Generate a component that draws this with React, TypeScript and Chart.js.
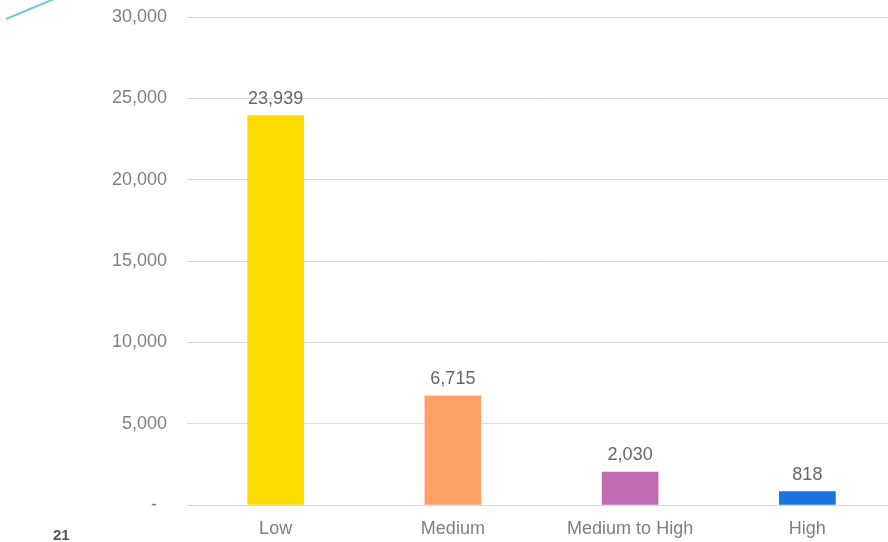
import React, { useEffect, useRef } from "react";
import { Chart, registerables } from "chart.js";

Chart.register(...registerables);

const categories = ["Low", "Medium", "Medium to High", "High"];
const values = [23939, 6715, 2030, 818];
const barColors = ["#FFDC00", "#FFA066", "#C06BB4", "#1A73E3"];
const yTicks = [0, 5000, 10000, 15000, 20000, 25000, 30000];

const FONT = "'Liberation Sans', Arial, sans-serif";

const fmt = (v: number) => (v === 0 ? "-  " : v.toLocaleString("en-US"));

const valueLabels = {
  id: "valueLabels",
  afterDatasetsDraw(chart: any) {
    const ctx = chart.ctx;
    const meta = chart.getDatasetMeta(0);
    ctx.save();
    ctx.font = `18px ${FONT}`;
    ctx.fillStyle = "#666666";
    ctx.textAlign = "center";
    ctx.textBaseline = "alphabetic";
    meta.data.forEach((el: any, i: number) => {
      ctx.fillText(fmt(values[i]), el.x, el.y - 12);
    });
    ctx.restore();
  },
};

export default function App() {
  const ref = useRef<HTMLCanvasElement>(null);
  useEffect(() => {
    document.body.style.margin = "0";
    document.body.style.overflow = "hidden";
    const chart = new Chart(ref.current!, {
      type: "bar",
      data: {
        labels: categories,
        datasets: [
          {
            data: values,
            backgroundColor: barColors,
            barThickness: 56,
          },
        ],
      },
      options: {
        animation: false,
        responsive: false,
        layout: { padding: { top: 17, left: 0, right: 0, bottom: 0 } },
        plugins: { legend: { display: false }, tooltip: { enabled: false } },
        scales: {
          x: {
            grid: { display: false, drawTicks: false },
            border: { display: true, color: "#D9D9D9", width: 1 },
            ticks: { color: "#7F7F7F", font: { family: FONT, size: 18 }, padding: 13 },
            afterFit: (s: any) => {
              s.height = 37;
            },
          },
          y: {
            min: 0,
            max: 30000,
            afterBuildTicks: (s: any) => {
              s.ticks = yTicks.map((v) => ({ value: v }));
            },
            grid: { color: "#D9D9D9", drawTicks: false },
            border: { display: false },
            ticks: {
              color: "#7F7F7F",
              font: { family: FONT, size: 18 },
              padding: 20,
              callback: (v: any) => fmt(Number(v)),
            },
            afterFit: (s: any) => {
              s.width = 187;
              s.paddingTop = 0;
              s.paddingBottom = 0;
            },
          },
        },
      },
      plugins: [valueLabels],
    });
    return () => chart.destroy();
  }, []);
  return (
    <div style={{ position: "fixed", left: 0, top: 0, width: 888, height: 542, overflow: "hidden", background: "#fff" }}>
      <canvas ref={ref} width={896} height={542} style={{ position: "absolute", left: 0, top: 0, width: 896, height: 542 }} />
      <svg width={80} height={30} style={{ position: "absolute", left: 0, top: 0 }}>
        <line x1={6} y1={19} x2={54} y2={-1} stroke="#6CCAD6" strokeWidth={2} />
      </svg>
      <div
        style={{
          position: "absolute",
          left: 53,
          top: 526,
          fontFamily: FONT,
          fontWeight: 700,
          fontSize: 15,
          lineHeight: "17px",
          color: "#555555",
        }}
      >
        21
      </div>
    </div>
  );
}
